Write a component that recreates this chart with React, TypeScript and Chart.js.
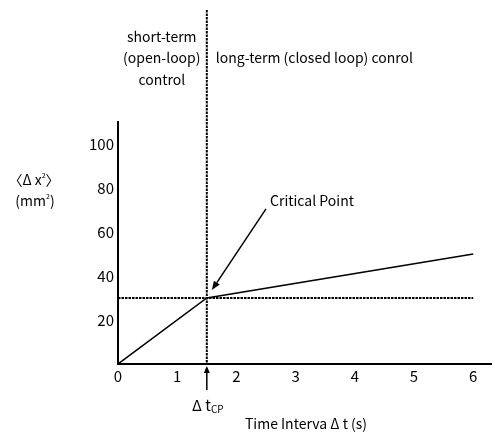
import React, { useEffect, useRef } from 'react';
import { Chart, registerables } from 'chart.js';

Chart.register(...registerables);

// Mean squared displacement vs. time interval (two-regime diffusion)
const timeSeconds = [0, 1.5, 6];
const msdValues = [0, 30, 50];
const criticalTime = 1.5;
const criticalMsd = 30;
const xTickValues = [0, 1, 2, 3, 4, 5, 6];
const yTickValues = [20, 40, 60, 80, 100];
const xMax = 6.3;
const yMax = 110;

const FONT = '"Noto Sans CJK JP", "Noto Sans", sans-serif';

function drawArrow(
  ctx: CanvasRenderingContext2D,
  x1: number, y1: number, x2: number, y2: number,
  headLen: number, headHalf: number, lineWidth: number
) {
  const ang = Math.atan2(y2 - y1, x2 - x1);
  const bx = x2 - headLen * Math.cos(ang);
  const by = y2 - headLen * Math.sin(ang);
  ctx.save();
  ctx.setLineDash([]);
  ctx.strokeStyle = '#000';
  ctx.fillStyle = '#000';
  ctx.lineWidth = lineWidth;
  ctx.beginPath();
  ctx.moveTo(x1, y1);
  ctx.lineTo(bx, by);
  ctx.stroke();
  ctx.beginPath();
  ctx.moveTo(x2, y2);
  ctx.lineTo(bx + headHalf * Math.sin(ang), by - headHalf * Math.cos(ang));
  ctx.lineTo(bx - headHalf * Math.sin(ang), by + headHalf * Math.cos(ang));
  ctx.closePath();
  ctx.fill();
  ctx.restore();
}

// draws text parts in sequence, centred as a whole on cx; parts may be raised/lowered
function drawRichCentered(
  ctx: CanvasRenderingContext2D,
  parts: { text: string; size: number; dy: number }[],
  cx: number, cy: number
) {
  let total = 0;
  for (const p of parts) {
    ctx.font = `${p.size}px ${FONT}`;
    total += ctx.measureText(p.text).width;
  }
  let xPos = cx - total / 2;
  ctx.textAlign = 'left';
  for (const p of parts) {
    ctx.font = `${p.size}px ${FONT}`;
    ctx.fillText(p.text, xPos, cy + p.dy);
    xPos += ctx.measureText(p.text).width;
  }
}

const guidesPlugin = {
  id: 'criticalGuides',
  beforeDatasetsDraw(chart: any) {
    const { ctx, chartArea, scales } = chart;
    const x = scales.x;
    const y = scales.y;
    const cx = x.getPixelForValue(criticalTime);
    const cy = y.getPixelForValue(criticalMsd);
    ctx.save();
    ctx.strokeStyle = '#000';
    ctx.lineWidth = 2;
    ctx.setLineDash([2.5, 1]);
    // regime boundary
    ctx.beginPath();
    ctx.moveTo(cx, 10);
    ctx.lineTo(cx, chartArea.bottom);
    ctx.stroke();
    // plateau reference level
    ctx.beginPath();
    ctx.moveTo(x.getPixelForValue(0), cy);
    ctx.lineTo(x.getPixelForValue(xTickValues[xTickValues.length - 1]), cy);
    ctx.stroke();
    ctx.restore();
  },
  afterDraw(chart: any) {
    const { ctx, chartArea, scales } = chart;
    const x = scales.x;
    const y = scales.y;
    const cx = x.getPixelForValue(criticalTime);
    ctx.save();
    ctx.fillStyle = '#000';
    ctx.font = `14px ${FONT}`;
    ctx.textBaseline = 'middle';

    // regime labels
    ctx.textAlign = 'center';
    ctx.fillText('short-term', cx - 45, 37);
    ctx.fillText('(open-loop)', cx - 45, 58);
    ctx.fillText('control', cx - 45, 80);
    ctx.textAlign = 'left';
    ctx.fillText('long-term (closed loop) conrol', cx + 9, 58);

    // critical point callout
    const ax1 = x.getPixelForValue(2.5);
    const ay1 = y.getPixelForValue(70.5);
    const ax2 = x.getPixelForValue(1.585);
    const ay2 = y.getPixelForValue(33.6);
    drawArrow(ctx, ax1, ay1, ax2, ay2, 9, 3.5, 1.5);
    ctx.textAlign = 'left';
    ctx.fillText('Critical Point', ax1 + 4, ay1 - 8);

    // Δt_CP marker under the axis
    drawArrow(ctx, cx, chartArea.bottom + 26, cx, chartArea.bottom + 2, 7, 3, 1.5);
    drawRichCentered(
      ctx,
      [
        { text: 'Δ t', size: 15, dy: 0 },
        { text: 'CP', size: 10, dy: 4 },
      ],
      cx + 1, 405
    );

    // axis titles
    ctx.font = `14px ${FONT}`;
    ctx.textAlign = 'center';
    ctx.fillText('Time Interva Δ t (s)', 306, 424);
    drawRichCentered(
      ctx,
      [
        { text: '〈Δ x', size: 14, dy: 0 },
        { text: '2', size: 7, dy: -5 },
        { text: '〉', size: 14, dy: 0 },
      ],
      34, 180
    );
    drawRichCentered(
      ctx,
      [
        { text: '(mm', size: 14, dy: 0 },
        { text: '2', size: 7, dy: -5 },
        { text: ')', size: 14, dy: 0 },
      ],
      35, 201
    );
    ctx.restore();
  },
};

export default function App() {
  const canvasRef = useRef<HTMLCanvasElement | null>(null);

  useEffect(() => {
    if (!canvasRef.current) return;
    const chart = new Chart(canvasRef.current, {
      type: 'line',
      data: {
        datasets: [
          {
            data: timeSeconds.map((t, i) => ({ x: t, y: msdValues[i] })),
            borderColor: '#000',
            borderWidth: 1.5,
            pointRadius: 0,
            tension: 0,
            fill: false,
          },
        ],
      },
      options: {
        animation: false,
        responsive: true,
        maintainAspectRatio: false,
        layout: { padding: { left: 0, top: 122, right: 4, bottom: 0 } },
        plugins: {
          legend: { display: false },
          tooltip: { enabled: false },
        },
        scales: {
          x: {
            type: 'linear',
            min: 0,
            max: xMax,
            grid: { display: false, drawTicks: false },
            border: { display: true, color: '#000', width: 2 },
            afterBuildTicks: (s: any) => {
              s.ticks = xTickValues.map((v) => ({ value: v }));
            },
            afterFit: (s: any) => {
              s.height = 69;
            },
            ticks: {
              color: '#000',
              padding: 3,
              maxRotation: 0,
              font: { family: FONT, size: 15 },
            },
          },
          y: {
            type: 'linear',
            min: 0,
            max: yMax,
            grid: { display: false, drawTicks: false },
            border: { display: true, color: '#000', width: 2 },
            afterBuildTicks: (s: any) => {
              s.ticks = yTickValues.map((v) => ({ value: v }));
            },
            afterFit: (s: any) => {
              s.width = 118;
            },
            ticks: {
              color: '#000',
              padding: 4,
              font: { family: FONT, size: 15 },
            },
          },
        },
      },
      plugins: [guidesPlugin],
    });
    return () => chart.destroy();
  }, []);

  return (
    <div style={{ position: 'fixed', left: 0, top: 0, width: 495, height: 433, background: '#fff' }}>
      <canvas ref={canvasRef} />
    </div>
  );
}
